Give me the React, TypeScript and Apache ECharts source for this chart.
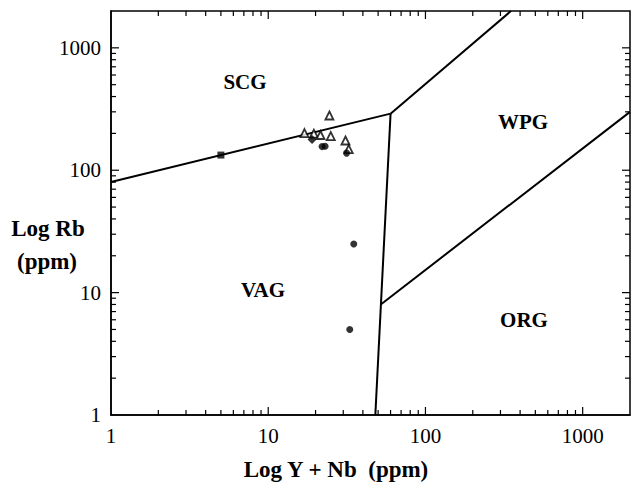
import React, { useEffect, useRef } from "react";
import * as echarts from "echarts";

// Boundary lines (Y+Nb, Rb) in ppm
const scgVagLine = [[1, 80], [60, 290]];
const scgWpgLine = [[60, 290], [350, 2000]];
const vagWpgLine = [[60, 290], [48, 1]];
const wpgOrgLine = [[52, 8], [2000, 300]];

// Samples (Y+Nb, Rb)
const triangles = [[17, 201], [19.5, 199], [21.5, 194], [25, 190], [24.5, 280], [31, 175], [32.5, 149]];
const circles = [[22, 156], [23, 157], [31.5, 138], [35, 25], [33, 5]];
const diamonds = [[19, 178]];
const squares = [[5, 133]];

// Axis tick values (log axes)
const tickValues = [2, 3, 4, 5, 6, 7, 8, 9, 10, 20, 30, 40, 50, 60, 70, 80, 90, 100, 200, 300, 400, 500, 600, 700, 800, 900, 1000];
const majorTicks = [1, 10, 100, 1000];
const axisMin = 1;
const axisMax = 2000;

const regionLabels = [
  { text: "SCG", x: 245, y: 82 },
  { text: "WPG", x: 523, y: 122 },
  { text: "VAG", x: 263, y: 290 },
  { text: "ORG", x: 524, y: 320 },
];

const FONT = "'Liberation Serif', 'Times New Roman', serif";

export default function App() {
  const ref = useRef<HTMLDivElement>(null);
  useEffect(() => {
    if (!ref.current) return;
    const chart = echarts.init(ref.current, undefined, { renderer: "svg" });
    const fmt = (v: number) => {
      const r = Math.round(v);
      return majorTicks.includes(r) && Math.abs(v - r) < 1e-6 * Math.max(1, r) ? String(r) : "";
    };
    const lineSeries = (data: number[][]) => ({
      type: "line",
      data,
      symbol: "none",
      lineStyle: { color: "#000", width: 2 },
      silent: true,
      z: 3,
    });
    const textGraphics: any[] = [
      ...regionLabels.map((r) => ({
        type: "text",
        x: r.x,
        y: r.y,
        style: { text: r.text, fill: "#000", font: `bold 21px ${FONT}`, textAlign: "center", textVerticalAlign: "middle" },
      })),
      {
        type: "text",
        x: 336,
        y: 469,
        style: { text: "Log Y + Nb  (ppm)", fill: "#000", font: `bold 23px ${FONT}`, textAlign: "center", textVerticalAlign: "middle" },
      },
      {
        type: "text",
        x: 48,
        y: 228,
        style: { text: "Log Rb", fill: "#000", font: `bold 23px ${FONT}`, textAlign: "center", textVerticalAlign: "middle" },
      },
      {
        type: "text",
        x: 47,
        y: 261,
        style: { text: "(ppm)", fill: "#000", font: `bold 23px ${FONT}`, textAlign: "center", textVerticalAlign: "middle" },
      },
    ];
    const axisCommon = {
      type: "log",
      logBase: 10,
      min: axisMin,
      max: axisMax,
      axisLine: { show: true, lineStyle: { color: "#000", width: 1.5 } },
      axisTick: { show: false },
      splitLine: { show: false },
    };
    chart.setOption({
      animation: false,
      backgroundColor: "#fff",
      grid: { left: 111, right: 2, top: 11, bottom: 67, show: true, borderColor: "#000", borderWidth: 1.5 },
      xAxis: {
        ...axisCommon,
        axisLabel: { formatter: fmt, color: "#000", fontFamily: FONT, fontSize: 21, margin: 10 },
      },
      yAxis: {
        ...axisCommon,
        axisLabel: { formatter: fmt, color: "#000", fontFamily: FONT, fontSize: 21, margin: 10 },
      },
      series: [
        lineSeries(scgVagLine),
        lineSeries(scgWpgLine),
        lineSeries(vagWpgLine),
        lineSeries(wpgOrgLine),
        {
          type: "scatter",
          data: triangles,
          symbol: "triangle",
          symbolSize: 8,
          itemStyle: { color: "#fff", borderColor: "#000", borderWidth: 1.8 },
          z: 5,
        },
        {
          type: "scatter",
          data: circles,
          symbol: "circle",
          symbolSize: 7,
          itemStyle: { color: "#000" },
          z: 5,
        },
        {
          type: "scatter",
          data: diamonds,
          symbol: "diamond",
          symbolSize: 9,
          itemStyle: { color: "#000" },
          z: 5,
        },
        {
          type: "scatter",
          data: squares,
          symbol: "rect",
          symbolSize: 7,
          itemStyle: { color: "#000" },
          z: 5,
        },
      ],
      graphic: textGraphics,
    });

    // Tick marks on all four sides, positioned through the axes' own scales
    const tickGraphics: any[] = [];
    const st = { stroke: "#000", lineWidth: 1.2 };
    tickValues.forEach((v) => {
      const len = majorTicks.includes(v) ? 8 : 5;
      const b = chart.convertToPixel({ gridIndex: 0 }, [v, axisMin]) as number[];
      const t = chart.convertToPixel({ gridIndex: 0 }, [v, axisMax]) as number[];
      const l = chart.convertToPixel({ gridIndex: 0 }, [axisMin, v]) as number[];
      const r = chart.convertToPixel({ gridIndex: 0 }, [axisMax, v]) as number[];
      if (!b || !t || !l || !r) return;
      tickGraphics.push(
        { type: "line", shape: { x1: b[0], y1: b[1], x2: b[0], y2: b[1] - len }, style: st, z: 10 },
        { type: "line", shape: { x1: t[0], y1: t[1], x2: t[0], y2: t[1] + len }, style: st, z: 10 },
        { type: "line", shape: { x1: l[0], y1: l[1], x2: l[0] + len, y2: l[1] }, style: st, z: 10 },
        { type: "line", shape: { x1: r[0], y1: r[1], x2: r[0] - len, y2: r[1] }, style: st, z: 10 }
      );
    });
    chart.setOption({ graphic: [...textGraphics, ...tickGraphics] });
    return () => chart.dispose();
  }, []);
  return <div ref={ref} style={{ position: "fixed", left: 0, top: 0, width: 633, height: 482 }} />;
}
